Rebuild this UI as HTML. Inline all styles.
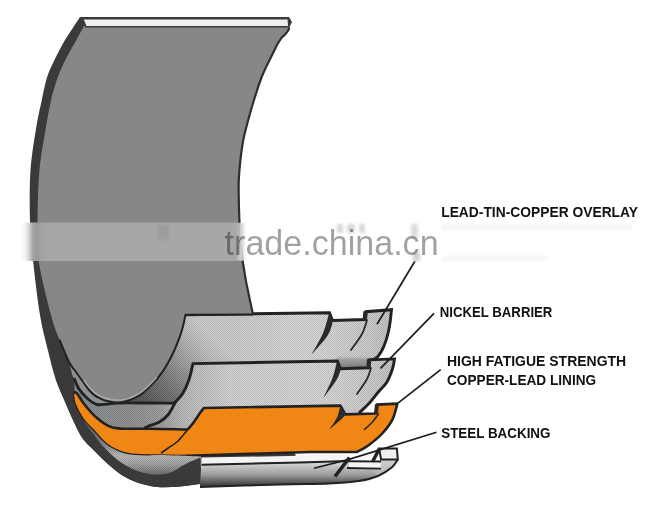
<!DOCTYPE html>
<html><head><meta charset="utf-8"><title>Bearing layers</title>
<style>
html,body{margin:0;padding:0;background:#fff}
body{width:663px;height:508px;overflow:hidden;position:relative;font-family:"Liberation Sans",sans-serif}
svg{position:absolute;left:0;top:0;display:block;filter:blur(0.3px)}
</style></head><body>
<svg width="663" height="508" viewBox="0 0 663 508">
<defs>
<linearGradient id="gOv" gradientUnits="userSpaceOnUse" x1="146" y1="408" x2="218" y2="342">
 <stop offset="0" stop-color="#4e4e4e"/><stop offset="0.3" stop-color="#6e6e6e"/><stop offset="0.6" stop-color="#9a9a9a"/><stop offset="0.85" stop-color="#bdbdbd"/><stop offset="1" stop-color="#c9c9c9"/>
</linearGradient>
<linearGradient id="gOvC" gradientUnits="userSpaceOnUse" x1="100" y1="0" x2="128" y2="0">
 <stop offset="0" stop-color="#8d9296" stop-opacity="1"/><stop offset="0.5" stop-color="#858a8e" stop-opacity="1"/><stop offset="1" stop-color="#858a8e" stop-opacity="0"/>
</linearGradient>
<linearGradient id="gSh" gradientUnits="userSpaceOnUse" x1="0" y1="355" x2="0" y2="368">
 <stop offset="0" stop-color="#b4b4b4" stop-opacity="0"/><stop offset="0.35" stop-color="#9c9c9c" stop-opacity="0.9"/><stop offset="1" stop-color="#767676"/>
</linearGradient>
<pattern id="dth" width="2" height="2" patternUnits="userSpaceOnUse"><rect x="0" y="0" width="1" height="1" fill="#000" fill-opacity="0.10"/><rect x="1" y="1" width="1" height="1" fill="#000" fill-opacity="0.10"/><rect x="1" y="0" width="1" height="1" fill="#fff" fill-opacity="0.10"/><rect x="0" y="1" width="1" height="1" fill="#fff" fill-opacity="0.10"/></pattern>
<linearGradient id="gHi" gradientUnits="userSpaceOnUse" x1="230" y1="0" x2="395" y2="0">
 <stop offset="0" stop-color="#fff" stop-opacity="0"/><stop offset="0.45" stop-color="#fff" stop-opacity="0.22"/><stop offset="0.75" stop-color="#fff" stop-opacity="0.05"/><stop offset="1" stop-color="#000" stop-opacity="0.06"/>
</linearGradient>
<linearGradient id="gNi" gradientUnits="userSpaceOnUse" x1="80" y1="0" x2="395" y2="0">
 <stop offset="0" stop-color="#82878b"/><stop offset="0.16" stop-color="#8b8b8b"/><stop offset="0.25" stop-color="#979797"/><stop offset="0.33" stop-color="#b6b6b6"/><stop offset="0.48" stop-color="#cfcfcf"/><stop offset="0.8" stop-color="#d3d3d3"/><stop offset="1" stop-color="#c0c0c0"/>
</linearGradient>
<linearGradient id="gSt" gradientUnits="userSpaceOnUse" x1="0" y1="464" x2="0" y2="486">
 <stop offset="0" stop-color="#d0d0d0"/><stop offset="0.5" stop-color="#9a9a9a"/><stop offset="1" stop-color="#3a3a3a"/>
</linearGradient>
<linearGradient id="gStC" gradientUnits="userSpaceOnUse" x1="0" y1="420" x2="0" y2="478">
 <stop offset="0" stop-color="#5a5d60"/><stop offset="0.35" stop-color="#6e7072"/><stop offset="0.62" stop-color="#b4b4b4"/><stop offset="0.75" stop-color="#a0a0a0"/><stop offset="1" stop-color="#555"/>
</linearGradient>
</defs>
<path d="M80.0,17.0 L289,17 L292,22 L289.3,27.5 C289.1,28.0 288.9,29.3 288.2,30.5 C287.5,31.7 286.2,33.1 285.0,34.5 C283.8,35.9 282.1,37.0 280.8,38.8 C279.5,40.5 278.1,43.0 277.0,45.0 C275.9,47.0 276.7,45.5 274.3,50.5 C271.9,55.5 265.9,66.8 262.5,75.0 C259.1,83.2 256.4,92.5 254.0,100.0 C251.6,107.5 250.0,113.3 248.2,120.0 C246.4,126.7 244.6,133.3 243.3,140.0 C242.0,146.7 241.2,153.3 240.4,160.0 C239.7,166.7 239.1,173.3 238.8,180.0 C238.5,186.7 238.7,193.3 238.8,200.0 C238.9,206.7 239.0,211.7 239.4,220.0 C239.8,228.3 240.1,240.0 241.2,250.0 C242.3,260.0 244.7,273.3 245.8,280.0 C246.9,286.7 246.6,284.2 247.8,290.0 C249.0,295.8 252.1,310.4 253.0,314.5 L300,470 L200,484 C196.7,484.0 186.7,485.9 180.0,486.5 C173.3,487.1 166.2,487.6 160.0,487.2 C153.8,486.8 148.8,486.0 143.0,484.3 C137.2,482.6 130.7,480.2 125.0,477.0 C119.3,473.8 114.2,469.5 109.0,465.0 C103.8,460.5 97.8,454.3 93.5,450.0 C89.2,445.7 86.0,443.0 83.0,439.0 C80.0,435.0 78.5,431.6 75.7,425.8 C72.9,420.0 69.3,411.8 66.0,404.0 C62.6,396.2 58.6,388.1 55.6,379.0 C52.6,369.9 50.3,360.2 47.7,349.5 C45.1,338.8 42.5,329.9 40.0,315.0 C37.5,300.1 34.7,275.8 33.0,260.0 C31.3,244.2 30.4,235.0 30.0,220.0 C29.6,205.0 29.4,185.5 30.5,170.0 C31.6,154.5 34.4,138.7 36.3,127.0 C38.2,115.3 40.5,106.5 41.8,100.0 C43.1,93.5 43.3,92.2 44.3,88.0 C45.3,83.8 46.3,79.3 47.8,75.0 C49.3,70.7 51.5,66.2 53.5,62.0 C55.5,57.8 57.6,53.7 59.5,50.0 C61.4,46.3 62.7,43.8 65.0,40.0 C67.3,36.2 71.0,30.8 73.5,27.0 C76.0,23.2 78.9,18.7 80.0,17.0 Z" fill="#3a3a3a"/>
<path d="M185.5,314.7L329.5,312.8 L332.5,320.5 L365.0,319.5 L366.0,311.7 L391.5,309.7C391.2,312.4 390.5,320.7 389.6,325.6 C388.8,330.6 387.8,335.1 386.4,339.4 C385.0,343.7 383.3,348.0 381.5,351.2 C379.7,354.4 377.7,356.9 375.6,358.5 C373.5,360.1 370.1,360.2 369.0,360.5L340.0,375.0 L200.0,375.0 L185.0,410.0 L150.0,430.0 L110.0,425.0 L85.0,405.0 L74.0,380.0 L100.0,340.0Z" fill="url(#gOv)"/>
<path d="M185.5,314.7L329.5,312.8 L332.5,320.5 L365.0,319.5 L366.0,311.7 L391.5,309.7C391.2,312.4 390.5,320.7 389.6,325.6 C388.8,330.6 387.8,335.1 386.4,339.4 C385.0,343.7 383.3,348.0 381.5,351.2 C379.7,354.4 377.7,356.9 375.6,358.5 C373.5,360.1 370.1,360.2 369.0,360.5L340.0,375.0 L200.0,375.0 L185.0,410.0 L150.0,430.0 L110.0,425.0 L85.0,405.0 L74.0,380.0 L100.0,340.0Z" fill="url(#gHi)"/>
<path d="M185.5,314.7L329.5,312.8 L332.5,320.5 L365.0,319.5 L366.0,311.7 L391.5,309.7C391.2,312.4 390.5,320.7 389.6,325.6 C388.8,330.6 387.8,335.1 386.4,339.4 C385.0,343.7 383.3,348.0 381.5,351.2 C379.7,354.4 377.7,356.9 375.6,358.5 C373.5,360.1 370.1,360.2 369.0,360.5L340.0,375.0 L200.0,375.0 L185.0,410.0 L150.0,430.0 L110.0,425.0 L85.0,405.0 L74.0,380.0 L100.0,340.0Z" fill="url(#dth)"/>
<path d="M66,355 L74,380 L85,405 L110,425 L128,420 L128,395 L100,380 Z" fill="url(#gOvC)"/>
<path d="M185.5,314.7L329.5,312.8 L332.5,320.5 L365.0,319.5 L366.0,311.7 L391.5,309.7C391.2,312.4 390.5,320.7 389.6,325.6 C388.8,330.6 387.8,335.1 386.4,339.4 C385.0,343.7 383.3,348.0 381.5,351.2 C379.7,354.4 377.7,356.9 375.6,358.5 C373.5,360.1 370.1,360.2 369.0,360.5" fill="none" stroke="#222" stroke-width="2.9" stroke-linejoin="miter"/>
<path d="M336,356 L372,354 L370,369 L340,370 Z" fill="url(#gSh)"/>
<path d="M74.0,378.0C74.8,379.8 76.7,385.5 79.0,389.0 C81.3,392.5 85.0,396.4 88.0,399.0 C91.0,401.6 93.7,403.7 97.0,404.5 C100.3,405.3 104.5,404.2 108.0,404.0 C111.5,403.8 111.0,403.2 118.0,403.0 C125.0,402.8 140.6,403.0 150.0,403.0 C159.4,403.0 170.2,403.2 174.3,403.2C175.8,401.5 180.6,397.0 183.0,393.0 C185.4,389.0 187.3,384.3 189.0,379.4 C190.7,374.5 192.3,366.2 193.0,363.6L337.4,361.0 L340.4,368.7 L368.5,367.8 L369.0,359.9 L394.5,358.9C394.2,360.5 393.8,364.8 392.5,368.7 C391.2,372.6 388.9,378.7 386.6,382.5 C384.3,386.3 381.6,388.0 378.7,391.5 C375.8,395.0 372.2,400.0 368.9,403.6 C365.6,407.2 360.6,411.4 359.0,413.0L340.0,420.0 L200.0,420.0 L180.0,450.0 L120.0,450.0 L90.0,430.0 L75.0,400.0Z" fill="url(#gNi)"/>
<path d="M74.0,378.0C74.8,379.8 76.7,385.5 79.0,389.0 C81.3,392.5 85.0,396.4 88.0,399.0 C91.0,401.6 93.7,403.7 97.0,404.5 C100.3,405.3 104.5,404.2 108.0,404.0 C111.5,403.8 111.0,403.2 118.0,403.0 C125.0,402.8 140.6,403.0 150.0,403.0 C159.4,403.0 170.2,403.2 174.3,403.2C175.8,401.5 180.6,397.0 183.0,393.0 C185.4,389.0 187.3,384.3 189.0,379.4 C190.7,374.5 192.3,366.2 193.0,363.6L337.4,361.0 L340.4,368.7 L368.5,367.8 L369.0,359.9 L394.5,358.9C394.2,360.5 393.8,364.8 392.5,368.7 C391.2,372.6 388.9,378.7 386.6,382.5 C384.3,386.3 381.6,388.0 378.7,391.5 C375.8,395.0 372.2,400.0 368.9,403.6 C365.6,407.2 360.6,411.4 359.0,413.0L340.0,420.0 L200.0,420.0 L180.0,450.0 L120.0,450.0 L90.0,430.0 L75.0,400.0Z" fill="url(#dth)"/>
<path d="M74.0,378.0C74.8,379.8 76.7,385.5 79.0,389.0 C81.3,392.5 85.0,396.4 88.0,399.0 C91.0,401.6 93.7,403.7 97.0,404.5 C100.3,405.3 104.5,404.2 108.0,404.0 C111.5,403.8 111.0,403.2 118.0,403.0 C125.0,402.8 140.6,403.0 150.0,403.0 C159.4,403.0 170.2,403.2 174.3,403.2C175.8,401.5 180.6,397.0 183.0,393.0 C185.4,389.0 187.3,384.3 189.0,379.4 C190.7,374.5 192.3,366.2 193.0,363.6L337.4,361.0 L340.4,368.7 L368.5,367.8 L369.0,359.9 L394.5,358.9C394.2,360.5 393.8,364.8 392.5,368.7 C391.2,372.6 388.9,378.7 386.6,382.5 C384.3,386.3 381.6,388.0 378.7,391.5 C375.8,395.0 372.2,400.0 368.9,403.6 C365.6,407.2 360.6,411.4 359.0,413.0" fill="none" stroke="#222" stroke-width="2.9"/>
<path d="M176.0,401.0C174.7,403.2 171.0,411.1 168.3,414.5 C165.6,417.9 163.2,419.7 159.8,421.7 C156.4,423.7 150.3,425.4 147.7,426.5 C145.1,427.6 144.6,427.8 144.0,428.0" fill="none" stroke="#222" stroke-width="2.9"/>
<path d="M72.7,392.7C73.4,392.8 75.0,391.4 76.9,393.3 C78.8,395.2 81.1,400.2 84.1,404.0 C87.1,407.8 91.0,412.6 95.0,416.2 C99.0,419.8 104.1,423.7 108.3,425.8 C112.5,427.9 113.3,428.1 120.3,428.6 C127.2,429.1 138.8,428.6 150.0,428.7 C161.2,428.8 181.2,429.4 187.5,429.5C188.3,428.6 190.3,426.8 192.4,424.0 C194.5,421.2 198.1,415.7 200.0,413.0 C201.9,410.3 203.2,408.8 203.8,408.0L340.4,405.6 L345.3,414.4 L375.8,413.5 L376.8,404.6 L397.4,403.6C396.6,406.2 394.9,414.5 392.5,419.4 C390.1,424.3 386.6,428.7 382.7,433.0 C378.8,437.3 373.2,441.8 368.9,445.0 C364.6,448.2 359.0,450.8 357.0,452.0L310.0,452.0 L180.0,456.0C157.4,455.1 150.4,455.8 144.6,455.5 C138.8,455.2 131.2,455.2 125.0,453.5 C118.8,451.8 112.5,448.8 107.2,445.0 C102.0,441.2 97.5,435.2 93.5,431.0 C89.5,426.8 86.2,424.3 83.0,419.8 C79.8,415.3 76.2,408.5 74.5,404.0 C72.8,399.5 73.0,394.6 72.7,392.7Z" fill="#f08614" stroke="#222" stroke-width="2.6" stroke-linejoin="round"/>
<path d="M187.5,430.0C185.9,431.8 181.2,438.0 178.0,441.0 C174.8,444.0 171.1,446.0 168.3,448.0 C165.5,450.0 162.2,452.2 161.0,453.0" fill="none" stroke="#222" stroke-width="1.6"/>
<path d="M83.0,419.8C84.8,421.7 89.5,426.8 93.5,431.0 C97.5,435.2 102.0,441.2 107.2,445.0 C112.5,448.8 118.8,451.8 125.0,453.5 C131.2,455.2 138.8,455.2 144.6,455.5 C150.4,455.8 150.6,454.8 160.0,455.0 C169.4,455.2 194.2,456.2 201.0,456.5L201.0,470.0 L160.0,478.0 L120.0,466.0 L95.0,445.0Z" fill="url(#gStC)"/>
<path d="M83.0,419.8C84.8,421.7 89.5,426.8 93.5,431.0 C97.5,435.2 102.0,441.2 107.2,445.0 C112.5,448.8 118.8,451.8 125.0,453.5 C131.2,455.2 138.8,455.2 144.6,455.5 C150.4,455.8 150.6,454.8 160.0,455.0 C169.4,455.2 194.2,456.2 201.0,456.5L201.0,470.0 L160.0,478.0 L120.0,466.0 L95.0,445.0Z" fill="url(#dth)"/>
<path d="M200,463 L349,459.5 L349,468 L381,468.5 L381,459.4 L397.8,459.4 C396.8,460.7 395.3,464.5 392.0,467.3 C388.7,470.1 383.6,473.7 378.0,476.0 C372.4,478.3 366.8,479.8 358.6,481.0 C350.4,482.2 342.1,482.9 329.0,483.5 C315.9,484.1 301.5,483.9 280.0,484.5 C258.5,485.1 213.3,486.6 200.0,487.0 Z" fill="url(#gSt)"/>
<path d="M381,459.4 L397.8,459.4 C396.8,460.7 395.3,464.5 392.0,467.3 C388.7,470.1 380.3,474.6 378.0,476.0 L372,470 Z" fill="#c4c4c4" fill-opacity="0.55"/>
<path d="M397.8,459.4C396.8,460.7 395.3,464.5 392.0,467.3 C388.7,470.1 383.6,473.7 378.0,476.0 C372.4,478.3 366.8,479.8 358.6,481.0 C350.4,482.2 342.1,482.9 329.0,483.5 C315.9,484.1 301.5,483.9 280.0,484.5 C258.5,485.1 213.3,486.6 200.0,487.0" fill="none" stroke="#222" stroke-width="2"/>
<path d="M201.4,457.6 L300,455.8 L347,454.8 L349,460.4 L300,461.6 L201.4,464 Z" fill="#f4f4f4"/>
<path d="M201.4,464.8 L300,462.4 L349,461.1" fill="none" stroke="#222" stroke-width="2"/>
<path d="M349.5,462.6 L380.6,462.9 L380.6,467.4 L349.5,466.6 Z" fill="#f4f4f4"/>
<path d="M347.5,461.2 L381,461.4" fill="none" stroke="#222" stroke-width="2"/>
<path d="M347,468 L381,468.6" fill="none" stroke="#222" stroke-width="1.8"/>
<path d="M349.5,457.5 L335,476.5" fill="none" stroke="#222" stroke-width="3.6" stroke-linecap="butt"/>
<path d="M352,459 L377.5,451 L372.6,460.6 Z" fill="#fbfbfb"/>
<path d="M379.2,448.6 L396.9,448.6 L397.8,459.4 L381,459.4 Z" fill="#f0f0f0" stroke="#222" stroke-width="2" stroke-linejoin="miter"/>
<path d="M379.6,448.2 L372.6,461.6" fill="none" stroke="#222" stroke-width="3.4"/>
<path d="M69.0,362.0C69.5,364.2 71.3,370.0 72.0,375.0 C72.7,380.0 72.6,387.2 73.0,392.0 C73.4,396.8 72.8,399.4 74.5,404.0 C76.2,408.6 80.0,415.0 83.0,419.8 C86.0,424.6 89.4,428.7 92.6,433.0 C95.8,437.3 97.9,440.7 102.3,445.4 C106.7,450.1 113.6,456.9 119.0,461.0 C124.4,465.1 129.9,467.8 134.8,470.0 C139.7,472.2 144.4,473.2 148.6,474.0 C152.8,474.8 156.1,474.8 160.0,474.5 C163.9,474.2 168.3,473.4 172.0,472.0 C175.7,470.6 178.7,467.8 182.0,466.0 C185.3,464.2 188.9,462.4 192.0,461.0 C195.1,459.6 199.1,458.1 200.5,457.5 L201,470 L200,484 C196.7,484.4 186.7,486.0 180.0,486.5 C173.3,487.0 166.2,487.6 160.0,487.2 C153.8,486.8 148.8,486.0 143.0,484.3 C137.2,482.6 130.7,480.2 125.0,477.0 C119.3,473.8 114.2,469.5 109.0,465.0 C103.8,460.5 97.8,454.3 93.5,450.0 C89.2,445.7 86.0,443.0 83.0,439.0 C80.0,435.0 78.5,431.6 75.7,425.8 C72.9,420.0 69.3,411.8 66.0,404.0 C62.6,396.2 57.3,383.2 55.6,379.0 Z" fill="#3a3a3a"/>
<path d="M84.0,26.0 L288,26 L289.3,27.5 C289.1,28.0 288.9,29.3 288.2,30.5 C287.5,31.7 286.2,33.1 285.0,34.5 C283.8,35.9 282.1,37.0 280.8,38.8 C279.5,40.5 278.1,43.0 277.0,45.0 C275.9,47.0 276.7,45.5 274.3,50.5 C271.9,55.5 265.9,66.8 262.5,75.0 C259.1,83.2 256.4,92.5 254.0,100.0 C251.6,107.5 250.0,113.3 248.2,120.0 C246.4,126.7 244.6,133.3 243.3,140.0 C242.0,146.7 241.2,153.3 240.4,160.0 C239.7,166.7 239.1,173.3 238.8,180.0 C238.5,186.7 238.7,193.3 238.8,200.0 C238.9,206.7 239.0,211.7 239.4,220.0 C239.8,228.3 240.1,240.0 241.2,250.0 C242.3,260.0 244.7,273.3 245.8,280.0 C246.9,286.7 246.6,284.2 247.8,290.0 C249.0,295.8 252.1,310.4 253.0,314.5 L185.5,314.7 C185.2,316.1 184.5,320.0 183.8,323.0 C183.1,326.0 182.2,329.3 181.2,332.5 C180.2,335.7 179.1,338.8 177.8,342.0 C176.5,345.2 175.2,348.7 173.6,352.0 C172.0,355.3 170.3,358.8 168.5,362.0 C166.7,365.2 164.8,368.5 162.8,371.4 C160.8,374.3 158.7,377.0 156.5,379.5 C154.3,382.0 152.0,384.4 149.8,386.6 C147.6,388.8 145.8,390.7 143.5,392.5 C141.2,394.3 138.9,395.8 136.3,397.2 C133.7,398.6 130.7,399.9 128.0,400.8 C125.3,401.7 122.5,402.2 120.0,402.4 C117.5,402.6 115.3,402.5 113.0,402.2 C110.7,401.9 108.2,401.4 106.0,400.8 C103.8,400.2 101.8,399.3 100.0,398.4 C98.2,397.5 96.8,396.9 95.0,395.6 C93.2,394.3 91.4,392.7 89.5,390.5 C87.6,388.3 85.8,385.6 83.5,382.5 C81.2,379.4 78.4,375.4 76.0,372.0 C73.6,368.6 71.8,367.4 69.0,362.0 C66.2,356.6 62.5,347.5 59.5,339.7 C56.5,331.9 54.5,328.3 51.0,315.0 C47.5,301.7 40.8,275.8 38.5,260.0 C36.2,244.2 37.3,235.0 37.5,220.0 C37.7,205.0 38.1,185.5 39.5,170.0 C40.9,154.5 44.1,138.7 46.0,127.0 C47.9,115.3 49.7,106.5 51.1,100.0 C52.5,93.5 53.0,92.2 54.3,88.0 C55.5,83.8 56.9,79.3 58.6,75.0 C60.3,70.7 62.3,66.2 64.3,62.0 C66.3,57.8 68.7,53.7 70.7,50.0 C72.7,46.3 74.5,43.5 76.4,40.0 C78.3,36.5 81.0,31.3 82.3,29.0 C83.6,26.7 83.7,26.5 84.0,26.0 Z" fill="#878787"/>
<path d="M253.0,314.5 L185.5,314.7 C185.2,316.1 184.5,320.0 183.8,323.0 C183.1,326.0 182.2,329.3 181.2,332.5 C180.2,335.7 179.1,338.8 177.8,342.0 C176.5,345.2 175.2,348.7 173.6,352.0 C172.0,355.3 170.3,358.8 168.5,362.0 C166.7,365.2 164.8,368.5 162.8,371.4 C160.8,374.3 158.7,377.0 156.5,379.5 C154.3,382.0 152.0,384.4 149.8,386.6 C147.6,388.8 145.8,390.7 143.5,392.5 C141.2,394.3 138.9,395.8 136.3,397.2 C133.7,398.6 130.7,399.9 128.0,400.8 C125.3,401.7 122.5,402.2 120.0,402.4 C117.5,402.6 115.3,402.5 113.0,402.2 C110.7,401.9 108.2,401.4 106.0,400.8 C103.8,400.2 101.8,399.3 100.0,398.4 C98.2,397.5 96.8,396.9 95.0,395.6 C93.2,394.3 91.4,392.7 89.5,390.5 C87.6,388.3 85.8,385.6 83.5,382.5 C81.2,379.4 78.4,375.4 76.0,372.0 C73.6,368.6 71.8,367.4 69.0,362.0 C66.2,356.6 61.1,343.4 59.5,339.7" fill="none" stroke="#222" stroke-width="2"/>
<path d="M289.3,27.5C289.1,28.0 288.9,29.3 288.2,30.5 C287.5,31.7 286.2,33.1 285.0,34.5 C283.8,35.9 282.1,37.0 280.8,38.8 C279.5,40.5 278.1,43.0 277.0,45.0 C275.9,47.0 276.7,45.5 274.3,50.5 C271.9,55.5 265.9,66.8 262.5,75.0 C259.1,83.2 256.4,92.5 254.0,100.0 C251.6,107.5 250.0,113.3 248.2,120.0 C246.4,126.7 244.6,133.3 243.3,140.0 C242.0,146.7 241.2,153.3 240.4,160.0 C239.7,166.7 239.1,173.3 238.8,180.0 C238.5,186.7 238.7,193.3 238.8,200.0 C238.9,206.7 239.0,211.7 239.4,220.0 C239.8,228.3 240.1,240.0 241.2,250.0 C242.3,260.0 244.7,273.3 245.8,280.0 C246.9,286.7 246.6,284.2 247.8,290.0 C249.0,295.8 252.1,310.4 253.0,314.5" fill="none" stroke="#2e2e2e" stroke-width="2.2"/>
<path d="M83.5,382.5C84.5,383.8 87.6,388.3 89.5,390.5 C91.4,392.7 93.2,394.3 95.0,395.6 C96.8,396.9 98.2,397.5 100.0,398.4 C101.8,399.3 103.8,400.2 106.0,400.8 C108.2,401.4 110.7,401.9 113.0,402.2 C115.3,402.5 117.5,402.6 120.0,402.4 C122.5,402.2 125.3,401.7 128.0,400.8 C130.7,399.9 133.7,398.6 136.3,397.2 C138.9,395.8 141.2,394.3 143.5,392.5 C145.8,390.7 147.6,388.8 149.8,386.6 C152.0,384.4 155.4,380.7 156.5,379.5" fill="none" stroke="#b9b9b9" stroke-width="1.3" stroke-opacity="0.8" transform="translate(0.3,-2.3)"/>
<path d="M83.8,19.5 L287.6,19.5 L288,26 L86.5,26 Z" fill="#efefef"/>
<path d="M85,26.8 L289,26.8" stroke="#3a3a3a" stroke-width="1.6" fill="none"/>
<path d="M329.3,312.5C328.2,316.0 326.0,326.3 323.0,333.3 C320.0,340.3 313.4,351.0 311.5,354.5C314.2,351.3 324.2,340.9 327.8,335.3 C331.4,329.7 332.1,323.2 333.0,320.8Z" fill="#2a2a2a"/>
<path d="M367.0,320.0C366.2,322.3 364.7,329.0 362.0,334.0 C359.3,339.0 352.8,347.3 351.0,350.0" fill="none" stroke="#2a2a2a" stroke-width="1.8" stroke-linecap="round"/>
<path d="M365.6,311.4 L364.8,319.6" stroke="#2a2a2a" stroke-width="4.4"/>
<path d="M337.2,360.8C336.4,363.7 334.9,371.7 332.5,378.0 C330.1,384.3 324.6,395.1 323.0,398.5C325.2,395.4 333.5,384.9 336.5,380.0 C339.5,375.1 340.2,370.8 341.0,369.0Z" fill="#2a2a2a"/>
<path d="M371.0,368.0C370.3,369.8 369.3,374.7 367.0,379.0 C364.7,383.3 358.7,391.5 357.0,394.0" fill="none" stroke="#2a2a2a" stroke-width="1.8" stroke-linecap="round"/>
<path d="M369,359.6 L368.6,367.9" stroke="#2a2a2a" stroke-width="4.4"/>
<path d="M340.2,405.4C339.7,407.4 338.9,413.4 337.0,417.5 C335.1,421.6 330.3,427.8 329.0,429.8C330.9,428.2 337.7,422.5 340.5,420.0 C343.3,417.5 344.8,415.5 345.6,414.6Z" fill="#2a2a2a"/>
<path d="M378.5,414.0C377.5,415.3 374.8,419.4 372.5,422.0 C370.2,424.6 365.8,428.2 364.5,429.5" fill="none" stroke="#2a2a2a" stroke-width="1.6" stroke-linecap="round"/>
<path d="M377,404.4 L376,413.5" stroke="#2a2a2a" stroke-width="4"/>
<path d="M415,261 L377,324.3" stroke="#1c1c1c" stroke-width="1.7" stroke-linecap="butt" fill="none"/>
<path d="M434,313.4 L380.5,368.3" stroke="#1c1c1c" stroke-width="1.7" stroke-linecap="butt" fill="none"/>
<path d="M440.7,369.7 L398,403.2" stroke="#1c1c1c" stroke-width="1.7" stroke-linecap="butt" fill="none"/>
<path d="M436.5,432.3 L349,459.4 L314,468.2" stroke="#1c1c1c" stroke-width="1.7" stroke-linecap="butt" fill="none"/>
<text x="441.2" y="217.2" textLength="196.8" lengthAdjust="spacingAndGlyphs" font-family="Liberation Sans, sans-serif" font-weight="bold" font-size="15.4" fill="#111">LEAD-TIN-COPPER OVERLAY</text>
<text x="439.8" y="317.3" textLength="112.6" lengthAdjust="spacingAndGlyphs" font-family="Liberation Sans, sans-serif" font-weight="bold" font-size="15.4" fill="#111">NICKEL BARRIER</text>
<text x="447.0" y="365.6" textLength="179.2" lengthAdjust="spacingAndGlyphs" font-family="Liberation Sans, sans-serif" font-weight="bold" font-size="15.4" fill="#111">HIGH FATIGUE STRENGTH</text>
<text x="447.0" y="384.9" textLength="149.2" lengthAdjust="spacingAndGlyphs" font-family="Liberation Sans, sans-serif" font-weight="bold" font-size="15.4" fill="#111">COPPER-LEAD LINING</text>
<text x="441.2" y="437.6" textLength="109.3" lengthAdjust="spacingAndGlyphs" font-family="Liberation Sans, sans-serif" font-weight="bold" font-size="15.4" fill="#111">STEEL BACKING</text>
<defs><linearGradient id="gBand" gradientUnits="userSpaceOnUse" x1="20" y1="0" x2="48" y2="0"><stop offset="0" stop-color="#fff"/><stop offset="0.2" stop-color="#f2f2f2"/><stop offset="0.34" stop-color="#cfcfcf"/><stop offset="0.46" stop-color="#a4a4a4"/><stop offset="0.6" stop-color="#9b9b9b"/><stop offset="0.8" stop-color="#a3a3a3"/><stop offset="1" stop-color="#a7a7a7"/></linearGradient><filter id="blur1" x="-20%" y="-20%" width="140%" height="140%"><feGaussianBlur stdDeviation="1.6"/></filter><filter id="blur2" x="-50%" y="-50%" width="200%" height="200%"><feGaussianBlur stdDeviation="1.5 0.4"/></filter></defs>
<rect x="20" y="222.5" width="28" height="38.5" fill="url(#gBand)"/>
<rect x="48" y="222.5" width="615" height="38.5" fill="#fff" fill-opacity="0.27"/>
<rect x="238.6" y="223" width="5.2" height="37.5" fill="#d4d4d4" filter="url(#blur2)"/>
<rect x="157" y="225" width="12" height="15" fill="#8c8c8c" fill-opacity="0.35" filter="url(#blur1)"/>
<g filter="url(#blur1)" fill="#d9d9d9"><rect x="337" y="224" width="6" height="9"/><rect x="347" y="224" width="8" height="9"/><rect x="359" y="224" width="6" height="9"/><rect x="411" y="224" width="7" height="14" fill="#dcdcdc"/><rect x="413" y="252" width="7" height="9" fill="#d2d2d2"/></g>
<g filter="url(#blur1)" fill="#f4f4f4"><rect x="442" y="225" width="190" height="5"/><rect x="442" y="256" width="105" height="5"/></g>
<text x="224.6" y="254.5" textLength="214" lengthAdjust="spacingAndGlyphs" font-family="Liberation Sans, sans-serif" font-size="34.6" fill="#000" fill-opacity="0.37">trade.china.cn</text>
</svg>
</body></html>
